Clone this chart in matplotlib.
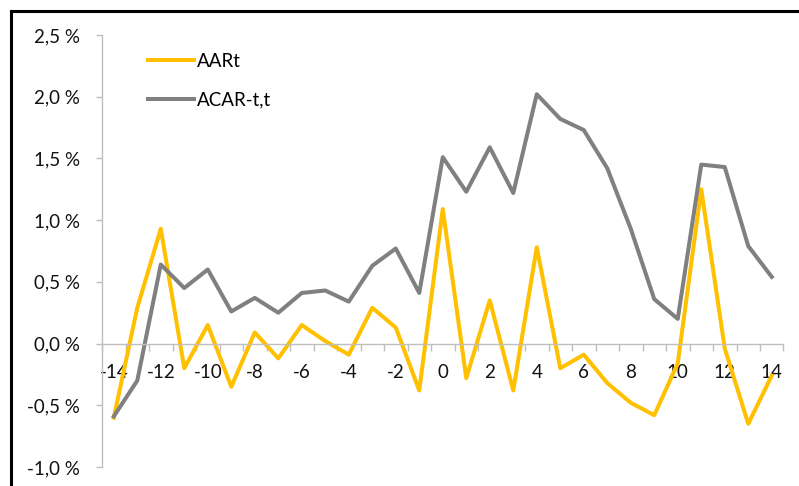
import numpy as np
import matplotlib.pyplot as plt
from matplotlib.lines import Line2D
from matplotlib.ticker import FuncFormatter

days = list(range(-14, 15))
aar = [-0.60, 0.29, 0.93, -0.20, 0.15, -0.35, 0.09, -0.12, 0.15, 0.02,
       -0.09, 0.29, 0.13, -0.38, 1.09, -0.28, 0.35, -0.38, 0.78, -0.20,
       -0.09, -0.32, -0.48, -0.58, -0.16, 1.25, -0.04, -0.65, -0.26]
acar = [-0.59, -0.30, 0.64, 0.45, 0.60, 0.26, 0.37, 0.25, 0.41, 0.43,
        0.34, 0.63, 0.77, 0.41, 1.51, 1.23, 1.59, 1.22, 2.02, 1.82,
        1.73, 1.42, 0.93, 0.36, 0.20, 1.45, 1.43, 0.79, 0.54]
y_ticks = [-1.0, -0.5, 0.0, 0.5, 1.0, 1.5, 2.0, 2.5]
x_labels = list(range(-14, 15, 2))

plt.rcParams['font.family'] = ['Lato', 'DejaVu Sans']

fig = plt.figure(figsize=(7.99, 4.86), dpi=100)
ax = fig.add_axes([0.1277, 0.0391, 0.8529, 0.8889])

ax.plot(days, aar, color='#FFC000', lw=2.9, label='AARt')
ax.plot(days, acar, color='#808080', lw=2.9, label='ACAR-t,t')

ax.set_xlim(-14.5, 14.5)
ax.set_ylim(-1.0, 2.5)

# category-style axis: ticks between days, labels on every second day
ax.set_xticks(np.arange(-14.5, 15, 1.0))
ax.set_xticklabels([])
ax.set_xticks(x_labels, minor=True)
ax.set_xticklabels([str(v) for v in x_labels], minor=True)
ax.tick_params(axis='x', which='major', direction='out', length=5, color='#BFBFBF', width=1)
ax.tick_params(axis='x', which='minor', length=0, pad=14.5, labelsize=13.5, colors='#111111')

ax.set_yticks(y_ticks)
ax.yaxis.set_major_formatter(FuncFormatter(lambda v, p: f'{v:.1f} %'.replace('.', ',')))
ax.tick_params(axis='y', direction='out', length=4.3, color='#BFBFBF', width=1,
               labelsize=13.5, pad=11.5, colors='#111111')

ax.spines['bottom'].set_position(('data', 0))
for s in ('top', 'right'):
    ax.spines[s].set_visible(False)
for s in ('left', 'bottom'):
    ax.spines[s].set_color('#BFBFBF')
    ax.spines[s].set_linewidth(1)

ax.legend(loc='upper left', bbox_to_anchor=(0.043, 0.998), frameon=False,
          fontsize=13.5, handlelength=2.45, handletextpad=0.15, labelspacing=1.15)

# outer frame
fig.add_artist(Line2D([11 / 799, 1], [1 - 11 / 486] * 2, color='black', lw=2.2,
                      transform=fig.transFigure))
fig.add_artist(Line2D([11 / 799] * 2, [0, 1 - 11 / 486], color='black', lw=2.2,
                      transform=fig.transFigure))

fig.savefig('out.png', dpi=100)
